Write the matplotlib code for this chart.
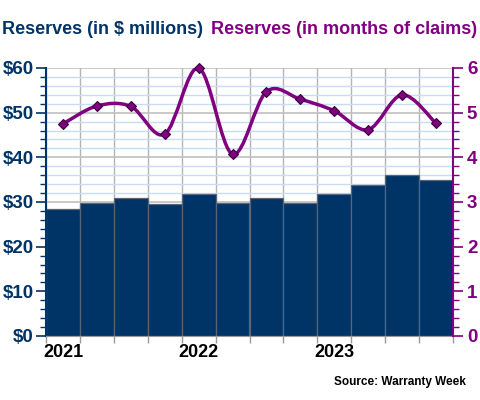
import matplotlib
matplotlib.use("Agg")
import matplotlib.pyplot as plt
from matplotlib.path import Path
from matplotlib.patches import PathPatch
from matplotlib.ticker import MultipleLocator, FuncFormatter
import numpy as np

quarters = ["2021 Q1", "2021 Q2", "2021 Q3", "2021 Q4",
            "2022 Q1", "2022 Q2", "2022 Q3", "2022 Q4",
            "2023 Q1", "2023 Q2", "2023 Q3", "2023 Q4"]
reserves_millions = [28.4, 29.8, 30.9, 29.5, 31.9, 29.8, 30.9, 29.8, 31.9, 33.9, 36.0, 34.9]
reserves_months = [4.75, 5.15, 5.14, 4.52, 6.0, 4.07, 5.47, 5.30, 5.04, 4.62, 5.40, 4.76]
year_labels = ["2021", "2022", "2023"]

NAVY = "#003366"
PURPLE = "#800080"

plt.rcParams['font.family'] = ['Liberation Sans', 'DejaVu Sans']

fig = plt.figure(figsize=(4.8, 4.0), dpi=100)
ax = fig.add_axes([46/480, 1 - 336/400, (453-46)/480, (336-68)/400])
n = len(quarters)
x = np.arange(n)

# grid
ax.set_xlim(-0.5, n - 0.5)
ax.set_ylim(0, 60)
ax.yaxis.set_major_locator(MultipleLocator(10))
ax.yaxis.set_minor_locator(MultipleLocator(2))
ax.grid(which='minor', axis='y', color='#c6ddf6', linewidth=1.0, zorder=0)
ax.grid(which='major', axis='y', color='#c0c0c0', linewidth=1.2, zorder=0)
ax.set_axisbelow(True)
for b in np.arange(-0.5, n, 1.0):
    ax.axvline(b, color='#b4b4b4', linewidth=1.0, zorder=0.5)

ax.bar(x, reserves_millions, width=1.0, color=NAVY, edgecolor='#5a6577', linewidth=0.9, zorder=2)

ax.yaxis.set_major_formatter(FuncFormatter(lambda v, p: f"${int(v)}"))
ax.tick_params(axis='y', which='major', colors=NAVY, length=7, width=1.2, labelsize=13.5, pad=2)
ax.tick_params(axis='y', which='minor', colors=NAVY, length=4, width=1.0)
for lbl in ax.get_yticklabels():
    lbl.set_fontweight('bold')
ax.spines['left'].set_color(NAVY)
ax.spines['left'].set_linewidth(1.5)
ax.spines['top'].set_visible(False)
ax.spines['right'].set_visible(False)
ax.spines['bottom'].set_color('#999999')

# x ticks: boundaries (minor), labels at Q1 centers
ax.set_xticks(np.arange(-0.5, n, 1.0), minor=True)
ax.set_xticks([0, 4, 8])
ax.set_xticklabels(year_labels, fontsize=13, fontweight='bold', color='black')
ax.tick_params(axis='x', which='major', length=0, pad=6)
ax.tick_params(axis='x', which='minor', length=5, color='#999999', width=1.0)

# right axis
ax2 = ax.twinx()
ax2.set_ylim(0, 6)
ax2.yaxis.set_major_locator(MultipleLocator(1))
ax2.yaxis.set_minor_locator(MultipleLocator(0.2))
ax2.tick_params(axis='y', which='major', colors=PURPLE, length=7, width=1.2, labelsize=13.5, pad=3)
ax2.tick_params(axis='y', which='minor', colors=PURPLE, length=4, width=1.0)
for lbl in ax2.get_yticklabels():
    lbl.set_fontweight('bold')
ax2.spines['right'].set_color(PURPLE)
ax2.spines['right'].set_linewidth(1.5)
for s in ['left', 'top', 'bottom']:
    ax2.spines[s].set_visible(False)

# smoothed line using cubic Bezier segments (Catmull-Rom style control points)
ys = reserves_months
verts = [(x[0], ys[0])]
codes = [Path.MOVETO]
for i in range(n - 1):
    p0 = (x[i-1], ys[i-1]) if i > 0 else (x[i], ys[i])
    p1 = (x[i], ys[i])
    p2 = (x[i+1], ys[i+1])
    p3 = (x[i+2], ys[i+2]) if i + 2 < n else (x[i+1], ys[i+1])
    c1 = (p1[0] + (p2[0] - p0[0]) / 6, p1[1] + (p2[1] - p0[1]) / 6)
    c2 = (p2[0] - (p3[0] - p1[0]) / 6, p2[1] - (p3[1] - p1[1]) / 6)
    verts += [c1, c2, p2]
    codes += [Path.CURVE4, Path.CURVE4, Path.CURVE4]
ax2.add_patch(PathPatch(Path(verts, codes), facecolor='none', edgecolor=PURPLE, linewidth=2.5, zorder=3))
ax2.plot(x, ys, linestyle='none', marker='D', markersize=5, color=PURPLE,
         markeredgecolor='#3a0040', markeredgewidth=0.8, zorder=4, clip_on=False)

fig.text(2/480, 1 - 30/400, "Reserves (in $ millions)", color=NAVY, fontsize=13,
         fontweight='bold', ha='left', va='center')
fig.text(477/480, 1 - 30/400, "Reserves (in months of claims)", color=PURPLE, fontsize=13,
         fontweight='bold', ha='right', va='center')
fig.text(466/480, 1 - 382/400, "Source: Warranty Week", color='black', fontsize=8.5,
         fontweight='bold', ha='right', va='center')

fig.savefig("out.png", dpi=100)
